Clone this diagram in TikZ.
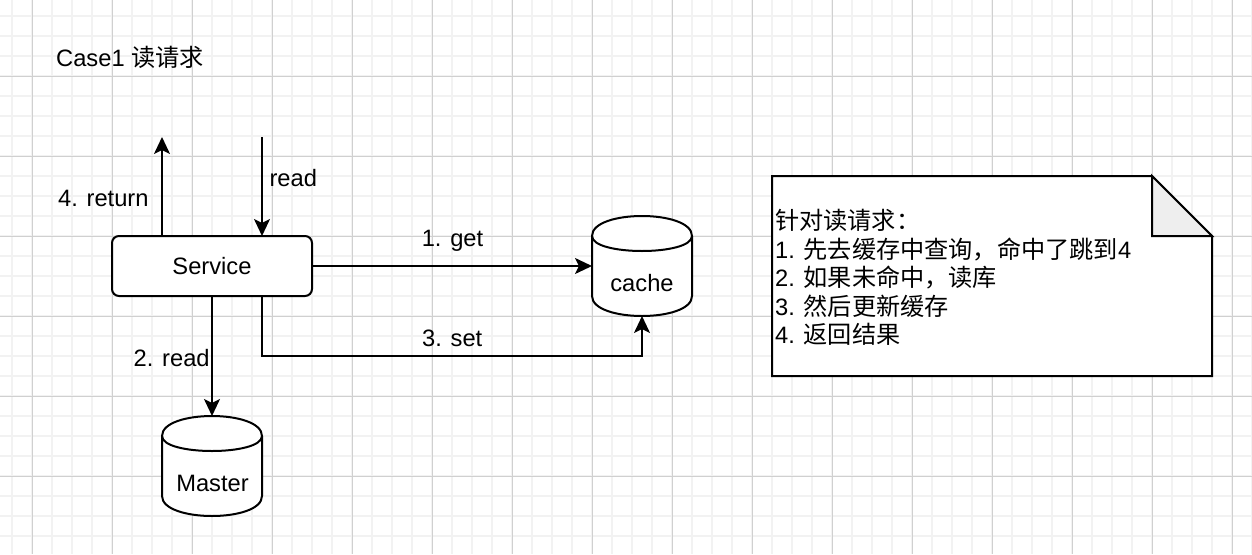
\documentclass[tikz,border=0pt]{standalone}
\usepackage{fontspec}
\setmainfont{Liberation Sans}
\newfontfamily\cjk[Scale=1.02]{Noto Sans CJK SC}
\usetikzlibrary{arrows.meta}
\definecolor{gridminor}{HTML}{F2F2F2}
\definecolor{gridmajor}{HTML}{D0D0D0}
\definecolor{foldgray}{HTML}{EEEEEE}
\tikzset{
  gminor/.style={draw=gridminor, line width=1.6pt},
  gmajor/.style={draw=gridmajor, line width=1pt},
  shapeline/.style={draw=black, line width=2pt, fill=white},
  svcbox/.style={shapeline, rounded corners=7pt, minimum width=200pt, minimum height=60pt, inner sep=0pt, outer sep=0pt},
  anchorbox/.style={minimum width=100pt, minimum height=100pt, inner sep=0pt, outer sep=0pt},
  lbl/.style={inner sep=0pt, anchor=base},
  arr/.style={draw=black, line width=2pt, -{Stealth[length=17pt,width=16pt,inset=4pt]}},
}
\newcommand\mycyl[2]{%
  \path[shapeline] ({#1},{#2+20}) .. controls ({#1},{#2-20/3}) and ({#1+100},{#2-20/3}) .. ({#1+100},{#2+20})
    -- ({#1+100},{#2+80}) .. controls ({#1+100},{#2+100+20/3}) and ({#1},{#2+100+20/3}) .. ({#1},{#2+80}) -- cycle;
  \draw[line width=2pt] ({#1},{#2+20}) .. controls ({#1},{#2+40}) and ({#1+100},{#2+40}) .. ({#1+100},{#2+20});
}
\begin{document}
\begin{tikzpicture}[x=1pt, y=-1pt, font=\fontsize{23.7}{28.5}\selectfont]
\useasboundingbox (0,0) rectangle (1252,554);
\fill[white] (0,0) rectangle (1252,554);
% grid
\foreach \x in {12,32,...,1252} \draw[gminor] (\x,0) -- (\x,554);
\foreach \y in {16,36,...,554} \draw[gminor] (0,\y) -- (1252,\y);
\foreach \x in {32,112,...,1232} \draw[gmajor] (\x,0) -- (\x,554);
\foreach \y in {76,156,...,554} \draw[gmajor] (0,\y) -- (1252,\y);

% title
\node[lbl] (title) at (130,66.5) {Case1 {\cjk 读请求}};

% service
\node[svcbox] (svc) at (212,266) {Service};

% cache cylinder
\mycyl{592}{216}
\node[anchorbox] (cache) at (642,266) {};
\node[lbl] (cachetext) at (642,291.5) {cache};

% master cylinder
\mycyl{162}{416}
\node[anchorbox] (master) at (212,466) {};
\node[lbl] (mastertext) at (212.5,491.5) {Master};

% note
\path[shapeline] (772,176) -- (1152,176) -- (1212,236) -- (1212,376) -- (772,376) -- cycle;
\path[shapeline, fill=foldgray] (1152,176) -- (1152,236) -- (1212,236) -- cycle;
\node[minimum width=440pt, minimum height=200pt, inner sep=0pt] (note) at (992,276) {};
\node[inner sep=0pt, anchor=west, align=left] (notetext) at (775,277.5)
  {{\cjk 针对读请求：}\\1. {\cjk 先去缓存中查询，命中了跳到}4\\2. {\cjk 如果未命中，读库}\\3. {\cjk 然后更新缓存}\\4. {\cjk 返回结果}};

% connectors
\coordinate (retEnd) at (162,137);
\coordinate (readStart) at (262,137);
\draw[arr] ([xshift=-50pt]svc.north) -- (retEnd);
\draw[arr] (readStart) -- ([xshift=50pt]svc.north);
\draw[arr] (svc.east) -- (cache.west);
\draw[arr] (svc.south) -- (master.north);
\draw[arr] ([xshift=50pt]svc.south) -- ++(0,60) -| (cache.south);

% labels
\node[lbl] (lret) at (103.3,206) {4. return};
\node[lbl] (lread) at (293.3,186) {read};
\node[lbl] (lget) at (452.5,246) {1. get};
\node[lbl] (lset) at (452.2,346) {3. set};
\node[lbl] (lread2) at (171.7,366) {2. read};
\end{tikzpicture}
\end{document}
